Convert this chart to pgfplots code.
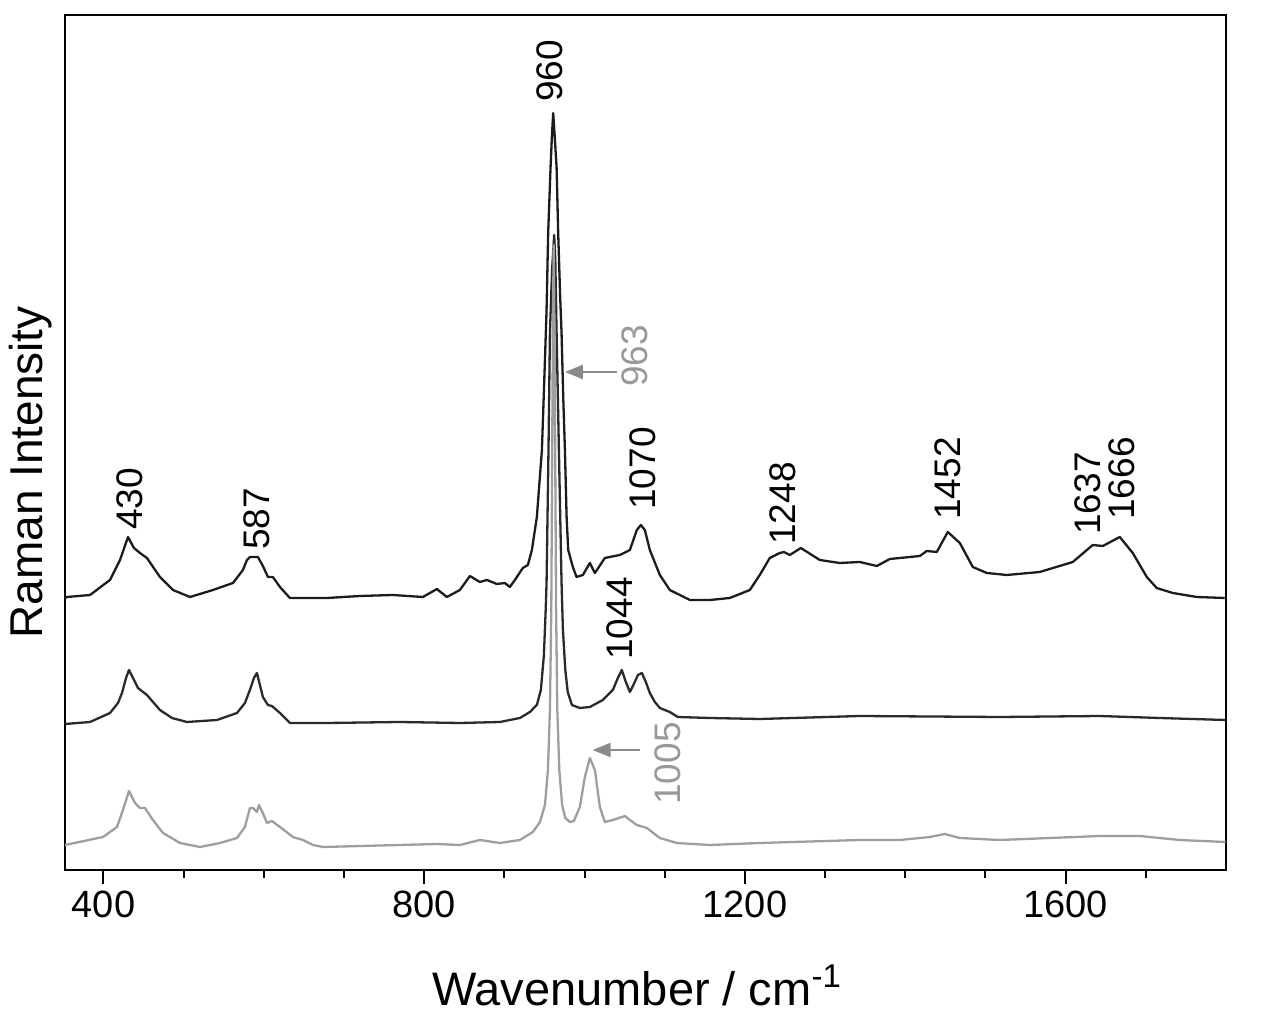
\documentclass[border=0pt]{standalone}
\usepackage{fontspec}
\setmainfont{Liberation Sans}
\usepackage{pgfplots}
\pgfplotsset{compat=1.18}
\usetikzlibrary{arrows.meta}
\definecolor{topc}{HTML}{1C1C1C}
\definecolor{midc}{HTML}{2A2A2A}
\definecolor{grayc}{HTML}{9E9E9E}
\definecolor{graylab}{HTML}{999999}
\definecolor{arrowc}{HTML}{8A8A8A}
\newcommand{\lbl}{\fontsize{18.5}{18.5}\selectfont}
\begin{document}
\begin{tikzpicture}
\begin{axis}[name=ax,
  width=580.5pt, height=427.5pt, scale only axis,
  xmin=352, xmax=1800, ymin=0, ymax=855,
  xtick={400,800,1200,1600},
  minor xtick={500,600,700,900,1000,1100,1300,1400,1500,1700},
  ytick=\empty,
  xtick pos=left,
  tick align=outside,
  major tick length=7pt, minor tick length=4pt,
  axis line style={line width=1pt},
  every tick/.style={black, line width=1pt},
  /pgf/number format/1000 sep={},
  /pgf/number format/assume math mode=true,
  tick label style={font=\fontsize{19}{19}\selectfont},
  xlabel={Wavenumber / cm\textsuperscript{-1}},
  xlabel style={font=\fontsize{23.5}{23.5}\selectfont, at={(axis description cs:0.4927,-0.158)}, anchor=base},
  ylabel={Raman Intensity},
  ylabel style={font=\fontsize{23}{23}\selectfont, at={(axis description cs:-0.0198,0.465)}, anchor=base, rotate=0},
  clip=false,
]
% top spectrum
\addplot[color=topc, line width=1.15pt, line join=round] coordinates {
(352.0,272) (354.5,273) (383.2,275) (408.1,290) (420.6,310) (430.6,333) (438.0,322) (445.5,317) (454.2,312) (470.4,293) (486.7,280) (507.9,273) (536.5,280) (561.5,287) (573.9,300) (578.9,310) (582.6,313) (592.6,313) (598.8,304) (605.1,293) (611.3,293) (620.1,283) (632.5,272) (678.7,272) (719.8,274) (760.9,275) (798.4,273) (815.8,281) (828.3,273) (844.5,280) (857.0,294) (869.4,288) (878.2,290) (890.6,286) (900.6,287) (906.8,283) (913.1,290) (923.0,302) (929.3,305) (934.3,320) (940.5,353) (946.8,420) (950.6,510) (952.6,560) (954.6,637) (957.6,703) (959.5,738) (960.9,757) (962.4,738) (965.1,703) (967.1,637) (969.5,575) (971.3,537) (973.5,470) (975.5,420) (977.6,353) (979.6,320) (985.4,303) (990.0,293) (997.9,295) (1006.6,307) (1012.9,297) (1025.3,312) (1044.0,315) (1056.5,320) (1065.2,340) (1070.2,345) (1075.2,340) (1081.4,320) (1093.9,295) (1106.3,280) (1131.3,270) (1156.2,270) (1181.1,272) (1206.1,280) (1218.5,295) (1231.0,312) (1243.5,317) (1248.5,318) (1256.0,315) (1269.7,322) (1293.4,310) (1318.3,307) (1343.3,308) (1364.5,304) (1380.7,311) (1418.1,314) (1426.8,319) (1439.3,318) (1453.0,338) (1468.0,327) (1484.2,303) (1501.7,297) (1526.6,295) (1567.7,298) (1608.9,308) (1633.8,325) (1646.3,324) (1667.5,333) (1683.7,317) (1701.2,293) (1713.6,282) (1733.6,277) (1763.5,273) (1798.4,272)
};
% middle spectrum
\addplot[color=midc, line width=1.15pt, line join=round] coordinates {
(352.0,146) (383.2,148) (408.1,157) (418.1,167) (423.1,177) (428.1,192) (431.8,200) (436.8,192) (443.0,182) (454.2,175) (470.4,160) (485.4,152) (504.1,148) (541.5,150) (566.5,157) (576.4,167) (582.6,180) (587.6,192) (591.4,197) (595.1,185) (598.8,173) (605.1,165) (610.1,164) (620.1,157) (632.5,147) (678.7,147) (769.7,148) (844.5,147) (894.4,148) (919.3,152) (931.8,158) (940.5,165) (945.5,180) (949.3,215) (951.5,260) (952.6,287) (955.0,420) (956.8,537) (959.5,600) (962.1,635) (963.5,610) (965.1,537) (968.0,420) (971.3,287) (973.0,240) (976.0,200) (979.0,178) (984.2,165) (994.1,162) (1006.6,163) (1022.8,170) (1035.3,180) (1041.5,192) (1046.5,200) (1051.5,188) (1056.5,178) (1061.5,186) (1066.5,195) (1071.5,197) (1076.4,188) (1081.4,177) (1087.7,168) (1093.9,162) (1106.3,158) (1116.3,153) (1156.2,152) (1218.5,151) (1343.3,154) (1517.8,153) (1642.5,154) (1717.3,152) (1799.6,150)
};
% bottom spectrum (gray)
\addplot[color=grayc, line width=1.15pt, line join=round] coordinates {
(352.0,25) (399.4,33) (416.8,43) (424.3,60) (431.8,79) (439.3,67) (445.5,62) (451.7,62) (461.7,50) (474.2,37) (495.4,27) (520.3,23) (545.3,27) (566.5,32) (576.4,43) (582.6,62) (586.4,62) (591.4,58) (593.9,65) (598.8,57) (603.8,47) (610.1,49) (620.1,43) (636.3,33) (648.8,30) (661.2,25) (673.7,23) (815.8,26) (844.5,25) (869.4,30) (894.4,27) (919.3,30) (935.5,38) (944.4,48) (950.6,65) (954.3,100) (956.8,160) (958.5,260) (959.5,400) (960.5,540) (961.5,625) (962.5,540) (963.5,400) (964.5,260) (966.0,160) (968.5,100) (972.0,65) (976.0,52) (981.7,48) (986.7,49) (994.1,63) (1000.4,93) (1006.6,112) (1012.9,100) (1019.1,63) (1025.3,48) (1035.3,50) (1050.3,54) (1056.5,50) (1065.2,45) (1077.7,42) (1093.9,32) (1115.0,27) (1156.2,25) (1218.5,27) (1343.3,30) (1393.2,30) (1430.6,33) (1449.3,36) (1468.0,32) (1517.8,30) (1580.2,32) (1642.5,34) (1692.4,34) (1742.3,30) (1799.6,28)
};
% peak labels
\node[rotate=90, anchor=west, inner sep=0, font=\lbl] at (axis cs:433,340) {430};
\node[rotate=90, anchor=west, inner sep=0, font=\lbl] at (axis cs:591,320) {587};
\node[rotate=90, anchor=west, inner sep=0, font=\lbl] at (axis cs:956.7,768) {960};
\node[rotate=90, anchor=west, inner sep=0, font=\lbl] at (axis cs:1072.7,360) {1070};
\node[rotate=90, anchor=west, inner sep=0, font=\lbl] at (axis cs:1247,325) {1248};
\node[rotate=90, anchor=west, inner sep=0, font=\lbl] at (axis cs:1453,350) {1452};
\node[rotate=90, anchor=west, inner sep=0, font=\lbl] at (axis cs:1627.5,335) {1637};
\node[rotate=90, anchor=west, inner sep=0, font=\lbl] at (axis cs:1670,350) {1666};
\node[rotate=90, anchor=west, inner sep=0, font=\lbl] at (axis cs:1044,210) {1044};
\node[rotate=90, anchor=west, inner sep=0, font=\lbl, text=graylab] at (axis cs:1062.7,483) {963};
\node[rotate=90, anchor=west, inner sep=0, font=\lbl, text=graylab] at (axis cs:1104,65) {1005};
\draw[arrowc, line width=1pt, -{Triangle[length=9pt,width=7pt]}] (axis cs:1040,498) -- (axis cs:975.4,498);
\draw[arrowc, line width=1pt, -{Triangle[length=9pt,width=7pt]}] (axis cs:1069,120) -- (axis cs:1010,120);
\end{axis}
\pgfresetboundingbox
\useasboundingbox ([shift={(-32.5pt,-76pt)}]ax.south west) rectangle ([shift={(29.5pt,7.5pt)}]ax.north east);
\end{tikzpicture}
\end{document}
